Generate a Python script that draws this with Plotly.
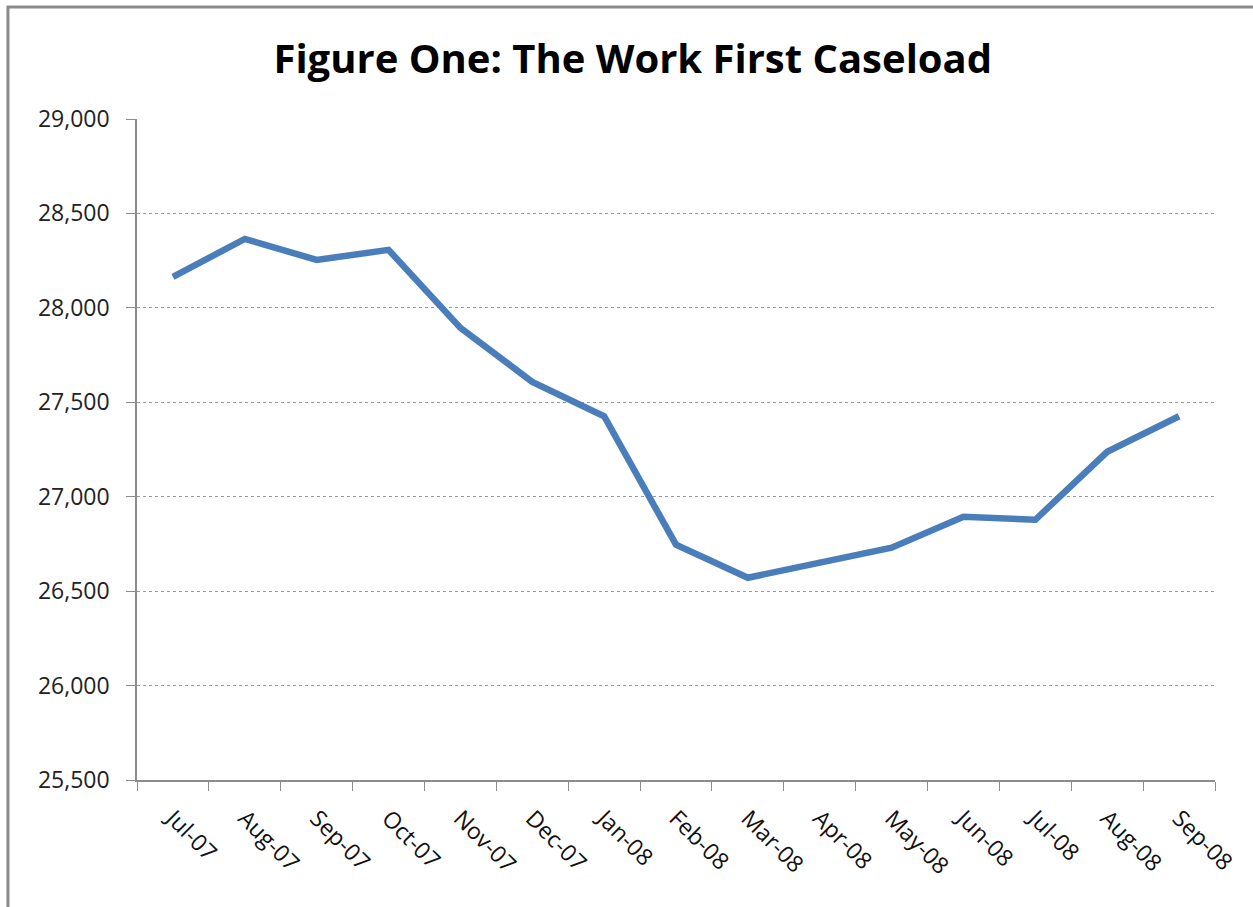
import plotly.graph_objects as go

MONTHS = ["Jul-07", "Aug-07", "Sep-07", "Oct-07", "Nov-07", "Dec-07", "Jan-08", "Feb-08",
          "Mar-08", "Apr-08", "May-08", "Jun-08", "Jul-08", "Aug-08", "Sep-08"]
CASELOAD = [28164, 28365, 28254, 28307, 27894, 27608, 27426, 26746,
            26571, 26651, 26730, 26894, 26878, 27238, 27426]

LINE = "#4a7ebb"
AXIS = "#8c8c8c"
FONT = "Open Sans, Noto Sans, Arial, sans-serif"

fig = go.Figure(go.Scatter(
    x=MONTHS, y=CASELOAD, mode="lines",
    line=dict(color=LINE, width=6.5),
    hovertemplate="%{x}: %{y:,}<extra></extra>",
))

fig.update_layout(
    width=1253, height=907, autosize=False,
    paper_bgcolor="white", plot_bgcolor="white",
    margin=dict(l=137, r=38, t=119, b=127),
    showlegend=False,
    title=dict(text="<b>Figure One: The Work First Caseload</b>", x=0.505, xanchor="center",
               y=0.935, yanchor="middle",
               font=dict(family=FONT, size=40, color="black")),
    font=dict(family=FONT, color="#222"),
)
fig.update_xaxes(
    type="category", range=[-0.5, len(MONTHS) - 0.5], tickson="boundaries",
    ticks="outside", ticklen=9, tickcolor=AXIS,
    showline=True, linecolor=AXIS, linewidth=1.5, showgrid=False,
    tickangle=45, tickfont=dict(size=23, color="#111"), ticklabelstandoff=14,
)
fig.update_yaxes(
    range=[25500, 29000], dtick=500, tickformat=",", ticks="outside", ticklen=9,
    tickcolor=AXIS, showline=True, linecolor=AXIS, linewidth=1.5,
    showgrid=True, gridcolor="#9a9a9a", griddash="dot", gridwidth=1,
    zeroline=False, tickfont=dict(size=23, color="#222"), ticklabelstandoff=12,
)
# chart frame (only the left and top edges fall inside the picture)
fig.add_shape(type="rect", xref="paper", yref="paper", x0=-0.1197, y0=-0.4, x1=1.2, y1=1.1694,
              line=dict(color="#8a8a8a", width=3), layer="below")

fig.write_html("out.html", config={"responsive": False, "displayModeBar": False},
               post_script="document.body.style.margin='0';document.body.style.overflow='hidden';")
